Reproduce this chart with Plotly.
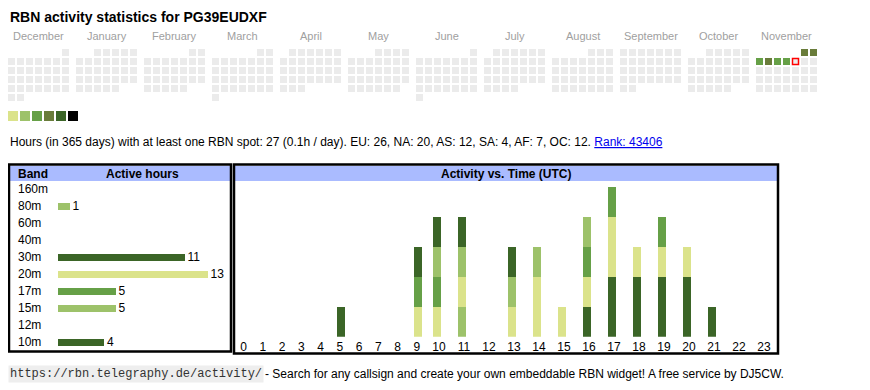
import datetime as dt
import plotly.graph_objects as go

# ---------------- data ----------------
TITLE = "RBN activity statistics for PG39EUDXF"
MONTHS = ["December", "January", "February", "March", "April", "May", "June",
          "July", "August", "September", "October", "November"]
FIRST_MONTH = (2024, 12)
ACTIVE_DATES = ["2025-11-01", "2025-11-02", "2025-11-03", "2025-11-04", "2025-11-05", "2025-11-06"]
ACTIVE_LEVELS = [4, 4, 3, 4, 3, 3]
TODAY = "2025-11-07"
LEVEL_COLORS = ["#dbe38b", "#9dc26a", "#66a047", "#697c3a", "#3b6527", "#000000"]
EMPTY_COLOR = "#ebebeb"

SUMMARY = ("Hours (in 365 days) with at least one RBN spot: 27 (0.1h / day). "
           "EU: 26, NA: 20, AS: 12, SA: 4, AF: 7, OC: 12. ")
RANK = "Rank: 43406"

BANDS = ["160m", "80m", "60m", "40m", "30m", "20m", "17m", "15m", "12m", "10m"]
BAND_HOURS = [0, 1, 0, 0, 11, 13, 5, 5, 0, 4]
BAND_COLORS = ["#3b6527", "#9dc26a", "#66a047", "#697c3a", "#3b6527", "#dbe38b",
               "#66a047", "#9dc26a", "#697c3a", "#3b6527"]

HOURS = list(range(24))
HOURLY = {
    "80m": [0, 0, 0, 0, 0, 0, 0, 0, 0, 0, 0, 1, 0, 0, 0, 0, 0, 0, 0, 0, 0, 0, 0, 0],
    "30m": [0, 0, 0, 0, 0, 1, 0, 0, 0, 0, 0, 0, 0, 0, 0, 0, 1, 2, 2, 2, 2, 1, 0, 0],
    "20m": [0, 0, 0, 0, 0, 0, 0, 0, 0, 1, 1, 1, 0, 1, 2, 1, 1, 2, 1, 1, 1, 0, 0, 0],
    "17m": [0, 0, 0, 0, 0, 0, 0, 0, 0, 1, 1, 0, 0, 0, 0, 0, 1, 1, 0, 1, 0, 0, 0, 0],
    "15m": [0, 0, 0, 0, 0, 0, 0, 0, 0, 0, 1, 1, 0, 1, 1, 0, 1, 0, 0, 0, 0, 0, 0, 0],
    "10m": [0, 0, 0, 0, 0, 0, 0, 0, 0, 1, 1, 1, 0, 1, 0, 0, 0, 0, 0, 0, 0, 0, 0, 0],
}

FOOT_URL = "https://rbn.telegraphy.de/activity/"
FOOT_TEXT = "- Search for any callsign and create your own embeddable RBN widget! A free service by DJ5CW."

# ---------------- layout helpers ----------------
OFF = 8            # the page body margin offsets the figure
W, H = 862, 382
FONT = "Liberation Sans, Arial, sans-serif"
HEAD_BG = "#aabbff"


def px(x):
    return (x - OFF) / W


def py(y):
    return 1 - (y - OFF) / H


fig = go.Figure()

# ---------- calendar ----------
CELL, PITCH, MONTH_PITCH, X0, Y0 = 7, 9, 68, 8, 49
cal_x, cal_y, cal_c = [], [], []
lvl = {dt.date.fromisoformat(d): l for d, l in zip(ACTIVE_DATES, ACTIVE_LEVELS)}
today = dt.date.fromisoformat(TODAY)
today_xy = None
y0, m0 = FIRST_MONTH
for mi in range(12):
    y = y0 + (m0 - 1 + mi) // 12
    m = (m0 - 1 + mi) % 12 + 1
    first = dt.date(y, m, 1)
    off = first.weekday()
    d = first
    while d.month == m:
        row = (off + d.day - 1) // 7
        cx = X0 + mi * MONTH_PITCH + d.weekday() * PITCH + CELL / 2
        cy = Y0 + row * PITCH + CELL / 2
        cal_x.append(cx)
        cal_y.append(cy)
        cal_c.append(LEVEL_COLORS[lvl[d] - 1] if d in lvl else EMPTY_COLOR)
        if d == today:
            today_xy = (cx, cy)
        d += dt.timedelta(days=1)

fig.add_trace(go.Scatter(x=cal_x, y=cal_y, mode="markers", xaxis="x", yaxis="y",
                         marker=dict(symbol="square", size=CELL, color=cal_c, line=dict(width=0)),
                         hoverinfo="skip"))
fig.add_trace(go.Scatter(x=[today_xy[0]], y=[today_xy[1]], mode="markers", xaxis="x", yaxis="y",
                         marker=dict(symbol="square", size=6, color=EMPTY_COLOR,
                                     line=dict(width=1.5, color="#ff0000")),
                         hoverinfo="skip"))
# legend swatches
fig.add_trace(go.Scatter(x=[X0 + 5 + 12 * i for i in range(len(LEVEL_COLORS))],
                         y=[116] * len(LEVEL_COLORS), mode="markers", xaxis="x", yaxis="y",
                         marker=dict(symbol="square", size=10, color=LEVEL_COLORS, line=dict(width=0)),
                         hoverinfo="skip"))

annotations = []
annotations.append(dict(x=8, y=17, xref="x", yref="y", text="<b>" + TITLE + "</b>", showarrow=False,
                        xanchor="left", yanchor="middle", font=dict(size=14, color="#000", family=FONT)))
for mi, name in enumerate(MONTHS):
    annotations.append(dict(x=X0 + mi * MONTH_PITCH + (6 * PITCH + CELL) / 2, y=36, xref="x", yref="y",
                            text=name, showarrow=False, xanchor="center", yanchor="middle",
                            font=dict(size=11, color="#a0a0a0", family=FONT)))
annotations.append(dict(x=8, y=142, xref="x", yref="y",
                        text=SUMMARY + '<span style="color:#0000ee"><u>' + RANK + "</u></span>",
                        showarrow=False, xanchor="left", yanchor="middle",
                        font=dict(size=12, color="#000", family=FONT)))

# ---------- band table ----------
UNIT_PX = 11.5
BX0 = 58
BRANGE = 15
ROW0, ROWP = 189, 17
fig.add_trace(go.Bar(orientation="h", y=BANDS, x=BAND_HOURS, xaxis="x2", yaxis="y2",
                     marker=dict(color=BAND_COLORS, line=dict(width=0)), width=7 / ROWP,
                     text=[str(v) if v else "" for v in BAND_HOURS], textposition="outside",
                     constraintext="none", cliponaxis=False,
                     textfont=dict(size=12, color="#000", family=FONT), hoverinfo="skip"))
for b in BANDS:
    annotations.append(dict(x=px(16), y=b, xref="paper", yref="y2", text=b, showarrow=False,
                            xanchor="left", yanchor="middle", font=dict(size=12, color="#000", family=FONT)))

# ---------- activity vs time ----------
COL0 = 234
col_w = [13.5 + 5.75 * len(str(h)) for h in HOURS]
col_left = []
acc = COL0
for w in col_w:
    col_left.append(acc)
    acc += w
tick_x = [l + w / 2 for l, w in zip(col_left, col_w)]
bar_x = [l + 10.3 for l in col_left]
BASE, UNIT_H = 336.7, 30
for band, counts in HOURLY.items():
    fig.add_trace(go.Bar(x=bar_x, y=counts, xaxis="x3", yaxis="y3", width=8,
                         marker=dict(color=BAND_COLORS[BANDS.index(band)], line=dict(width=0)),
                         hoverinfo="skip"))

# headers
annotations.append(dict(x=16, y=173.5, xref="x", yref="y", text="<b>Band</b>", showarrow=False,
                        xanchor="left", yanchor="middle", font=dict(size=12, color="#000", family=FONT)))
annotations.append(dict(x=142, y=173.5, xref="x", yref="y", text="<b>Active hours</b>", showarrow=False,
                        xanchor="center", yanchor="middle", font=dict(size=12, color="#000", family=FONT)))
annotations.append(dict(x=506, y=173.5, xref="x", yref="y", text="<b>Activity vs. Time (UTC)</b>",
                        showarrow=False, xanchor="center", yanchor="middle",
                        font=dict(size=12, color="#000", family=FONT)))
# footer
annotations.append(dict(x=8, y=374, xref="x", yref="y", text=FOOT_URL, showarrow=False,
                        xanchor="left", yanchor="middle", bgcolor="#eeeeee", borderpad=1,
                        font=dict(size=12, color="#333", family="Liberation Mono, DejaVu Sans Mono, monospace")))
annotations.append(dict(x=263, y=374, xref="x", yref="y", text=FOOT_TEXT, showarrow=False,
                        xanchor="left", yanchor="middle", font=dict(size=12, color="#000", family=FONT)))

shapes = [
    dict(type="rect", xref="paper", yref="paper", x0=px(10), x1=px(230), y0=py(166), y1=py(181),
         fillcolor=HEAD_BG, line=dict(width=0), layer="below"),
    dict(type="rect", xref="paper", yref="paper", x0=px(235), x1=px(777), y0=py(166), y1=py(181),
         fillcolor=HEAD_BG, line=dict(width=0), layer="below"),
    dict(type="rect", xref="paper", yref="paper", x0=px(9), x1=px(231), y0=py(164.5), y1=py(351.5),
         line=dict(width=2.5, color="#000")),
    dict(type="rect", xref="paper", yref="paper", x0=px(234), x1=px(778), y0=py(164.5), y1=py(353.5),
         line=dict(width=2.5, color="#000")),
]

hidden = dict(visible=False, showgrid=False, zeroline=False, fixedrange=True)
fig.update_layout(
    width=W, height=H, margin=dict(l=0, r=0, t=0, b=0, pad=0),
    paper_bgcolor="white", plot_bgcolor="rgba(0,0,0,0)", showlegend=False, barmode="stack",
    font=dict(family=FONT),
    xaxis=dict(domain=[0, 1], range=[OFF, OFF + W], **hidden),
    yaxis=dict(domain=[0, 1], range=[OFF + H, OFF], **hidden),
    xaxis2=dict(domain=[px(BX0), px(BX0 + UNIT_PX * BRANGE)], range=[0, BRANGE], anchor="y2", **hidden),
    yaxis2=dict(domain=[py(ROW0 + 9 * ROWP + ROWP / 2), py(ROW0 - ROWP / 2)],
                categoryorder="array", categoryarray=BANDS, range=[len(BANDS) - 0.5, -0.5],
                anchor="x2", type="category", visible=False, showgrid=False, zeroline=False),
    xaxis3=dict(domain=[px(233), px(779)], range=[233, 779], anchor="y3",
                tickvals=tick_x, ticktext=[str(h) for h in HOURS], ticks="", showline=False,
                showgrid=False, zeroline=False, tickfont=dict(size=12, color="#000", family=FONT),
                ticklabelstandoff=1),
    yaxis3=dict(domain=[py(BASE), py(BASE - 5 * UNIT_H)], range=[0, 5], anchor="x3",
                visible=False, showgrid=False, zeroline=False),
    annotations=annotations, shapes=shapes,
)

fig.write_html("out.html")
